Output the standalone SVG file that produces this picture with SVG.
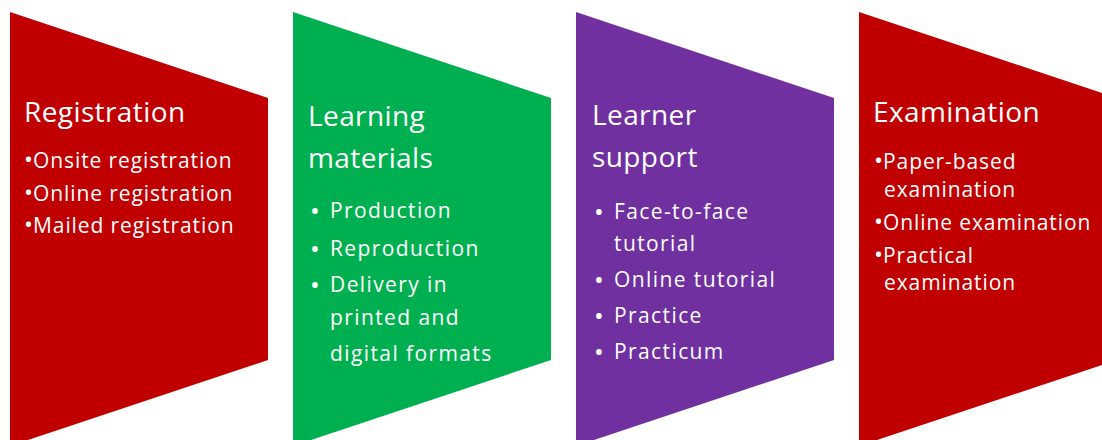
<svg xmlns="http://www.w3.org/2000/svg" width="1102" height="440" viewBox="0 0 1102 440">
<style>
text{font-family:"Open Sans","Liberation Sans",sans-serif;fill:#ffffff}
.t{font-size:28px;letter-spacing:0.4px}
.b{font-size:21px;letter-spacing:0.9px}
.w{letter-spacing:1.4px}
.d{font-size:26px}
.s{font-size:24px;letter-spacing:0}
</style>
<rect width="1102" height="440" fill="#ffffff"/>
<g id="registration">
<polygon points="10,12 268,98 268,360 10,446" fill="#C00000"/>
<text class="t" x="24" y="122">Registration</text>
<text class="b" x="24" y="168"><tspan class="s">•</tspan>Onsite registration</text>
<text class="b" x="24" y="201"><tspan class="s">•</tspan>Online registration</text>
<text class="b" x="24" y="233"><tspan class="s">•</tspan>Mailed registration</text>
</g>
<g id="learning-materials">
<polygon points="293,12 551,98 551,360 293,446" fill="#00B050"/>
<text class="t" x="308" y="126">Learning</text>
<text class="t" x="308" y="168">materials</text>
<text class="d" x="310" y="220">•</text><text class="b w" x="330" y="218">Production</text>
<text class="d" x="310" y="258">•</text><text class="b w" x="330" y="256">Reproduction</text>
<text class="d" x="310" y="294">•</text><text class="b w" x="330" y="292">Delivery in</text>
<text class="b w" x="330" y="325">printed and</text>
<text class="b w" x="330" y="361">digital formats</text>
</g>
<g id="learner-support">
<polygon points="576,12 834,98 834,360 576,446" fill="#7030A0"/>
<text class="t" x="592" y="125">Learner</text>
<text class="t" x="592" y="167">support</text>
<text class="d" x="594" y="221">•</text><text class="b w" x="614" y="219">Face-to-face</text>
<text class="b w" x="614" y="251">tutorial</text>
<text class="d" x="594" y="289">•</text><text class="b w" x="614" y="287">Online tutorial</text>
<text class="d" x="594" y="325">•</text><text class="b w" x="614" y="323">Practice</text>
<text class="d" x="594" y="361">•</text><text class="b w" x="614" y="359">Practicum</text>
</g>
<g id="examination">
<polygon points="859,12 1117,98 1117,360 859,446" fill="#C00000"/>
<text class="t" x="873" y="122">Examination</text>
<text class="b" x="874" y="169"><tspan class="s">•</tspan>Paper-based</text>
<text class="b" x="884" y="197">examination</text>
<text class="b" x="874" y="230"><tspan class="s">•</tspan>Online examination</text>
<text class="b" x="874" y="263"><tspan class="s">•</tspan>Practical</text>
<text class="b" x="884" y="290">examination</text>
</g>
<g id="connectors"/>
</svg>
